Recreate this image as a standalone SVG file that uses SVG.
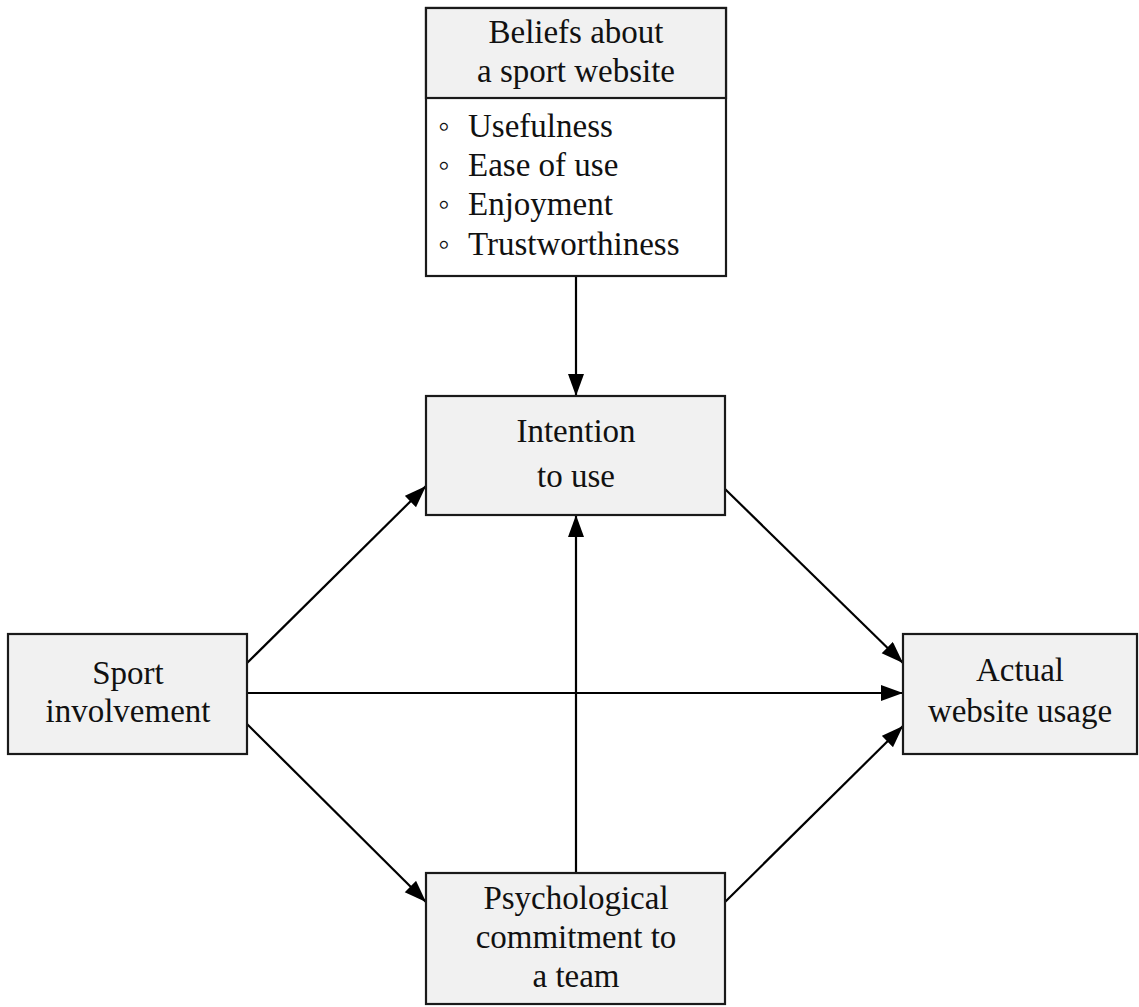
<svg xmlns="http://www.w3.org/2000/svg" width="1139" height="1007" viewBox="0 0 1139 1007">
<style>
.box{fill:#f1f1f1;stroke:#1a1a1a;stroke-width:2.2}
.white{fill:#ffffff;stroke:#1a1a1a;stroke-width:2.2}
text{font-family:"Liberation Serif","Times New Roman",serif;font-size:33px;fill:#111}
.c{text-anchor:middle}
.edge{stroke:#000;stroke-width:2.2;fill:none;marker-end:url(#arr)}
</style>
<defs>
<marker id="arr" markerUnits="userSpaceOnUse" markerWidth="24" markerHeight="18" refX="22" refY="8" orient="auto">
<path d="M0,0 L22,8 L0,16 z" fill="#000"/>
</marker>
</defs>
<rect width="1139" height="1007" fill="#ffffff"/>
<g id="connectors">
<line class="edge" x1="576" y1="277" x2="576" y2="396"/>
<line class="edge" x1="247" y1="663" x2="426" y2="486"/>
<line class="edge" x1="247" y1="693" x2="903" y2="693"/>
<line class="edge" x1="247" y1="724" x2="426" y2="902"/>
<line class="edge" x1="576" y1="873" x2="576" y2="515"/>
<line class="edge" x1="725" y1="489" x2="903" y2="663"/>
<line class="edge" x1="725" y1="902" x2="903" y2="726"/>
</g>
<g id="beliefs">
<rect class="white" x="426" y="8" width="300" height="268"/>
<rect class="box" x="426" y="8" width="300" height="90"/>
<text class="c" x="576" y="43">Beliefs about</text>
<text class="c" x="576" y="82">a sport website</text>
<text x="438" y="137">◦</text><text x="468" y="137">Usefulness</text>
<text x="438" y="176">◦</text><text x="468" y="176">Ease of use</text>
<text x="438" y="215">◦</text><text x="468" y="215">Enjoyment</text>
<text x="438" y="255">◦</text><text x="468" y="255">Trustworthiness</text>
</g>
<g id="intention">
<rect class="box" x="426" y="396" width="299" height="119"/>
<text class="c" x="576" y="442">Intention</text>
<text class="c" x="576" y="487">to use</text>
</g>
<g id="sport">
<rect class="box" x="8" y="634" width="239" height="120"/>
<text class="c" x="128" y="684">Sport</text>
<text class="c" x="128" y="722">involvement</text>
</g>
<g id="actual">
<rect class="box" x="903" y="634" width="234" height="120"/>
<text class="c" x="1020" y="681">Actual</text>
<text class="c" x="1020" y="722">website usage</text>
</g>
<g id="psych">
<rect class="box" x="426" y="873" width="299" height="131"/>
<text class="c" x="576" y="909">Psychological</text>
<text class="c" x="576" y="948">commitment to</text>
<text class="c" x="576" y="987">a team</text>
</g>
</svg>
